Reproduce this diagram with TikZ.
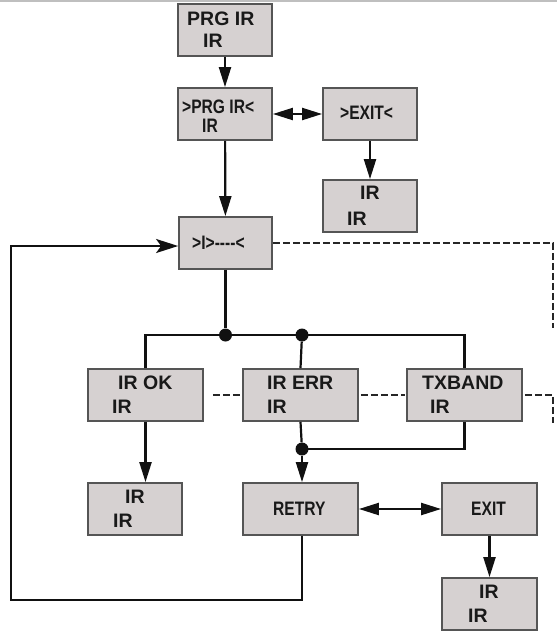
\documentclass[tikz,border=0pt]{standalone}
\usepackage{fontspec}
\usepackage{graphicx}
\setmainfont{Liberation Sans}
\usetikzlibrary{arrows.meta}

\definecolor{boxfill}{HTML}{D6D1D1}
\definecolor{boxline}{HTML}{555555}
\definecolor{wire}{HTML}{111111}
\definecolor{dashwire}{HTML}{262626}

\newcommand{\narrow}[1]{\scalebox{0.8}[1]{#1}}

\tikzset{
  panel/.style={draw=boxline, fill=boxfill, line width=1.8pt, inner sep=0pt,
                minimum height=52pt},
  wide/.style={panel, minimum width=115pt},
  slim/.style={panel, minimum width=94pt},
  lbl/.style={anchor=base west, inner sep=0pt, text=black!90,
              font=\fontsize{19.5}{19.5}\selectfont\bfseries},
  wireline/.style={draw=wire, line width=2.2pt},
  flow/.style={wireline, -{Triangle[length=20pt,width=12pt]}},
  both/.style={wireline, {Triangle[length=20pt,width=12pt]}-{Triangle[length=20pt,width=12pt]}},
  link/.style={draw=dashwire, line width=2.4pt, dash pattern=on 7pt off 3pt},
  junction/.style={circle, fill=wire, inner sep=0pt, minimum size=13pt}
}

\begin{document}
\begin{tikzpicture}[x=1pt, y=-1pt]
\useasboundingbox (0,0) rectangle (557,633);
\draw[black!25, line width=2pt] (0,1) -- (557,1);

% menu panels
\node[slim] (b1) at (225,30) {};
\node[slim] (b2) at (225,114) {};
\node[slim] (b3) at (370,114) {};
\node[slim] (b4) at (370,206) {};
\node[slim, minimum width=93pt] (b5) at (225.5,243) {};
\node[wide] (b6) at (145.5,395) {};
\node[wide] (b7) at (300.5,395) {};
\node[wide] (b8) at (464.5,395) {};
\node[slim] (b9) at (135,509) {};
\node[wide] (retry) at (300.5,509) {};
\node[slim, minimum width=95pt] (quit) at (489.5,509) {};
\node[slim, minimum width=95pt] (b10) at (489.5,604) {};

% panel texts
\node[lbl] (t1a) at (187,25) {PRG IR};
\node[lbl] (t1b) at (203,47) {IR};
\node[lbl] (t2a) at (182,113) {\narrow{>PRG IR<}};
\node[lbl] (t2b) at (202,132) {\narrow{IR}};
\node[lbl] (t3) at (340,119) {\narrow{>EXIT<}};
\node[lbl] (t4a) at (360,199) {IR};
\node[lbl] (t4b) at (347,225) {IR};
\node[lbl] (t5) at (192,249) {\narrow{>I>-{}-{}-{}-<}};
\node[lbl] (t6a) at (118,389) {IR OK};
\node[lbl] (t6b) at (112,413) {IR};
\node[lbl] (t7a) at (267,389) {IR ERR};
\node[lbl] (t7b) at (267,413) {IR};
\node[lbl] (t8a) at (422,389) {TXBAND};
\node[lbl] (t8b) at (430,413) {IR};
\node[lbl] (t9a) at (125,503) {IR};
\node[lbl] (t9b) at (113,527) {IR};
\node[lbl] (tr) at (273,515) {\narrow{RETRY}};
\node[lbl] (tq) at (471,515) {\narrow{EXIT}};
\node[lbl] (t10a) at (479,598) {IR};
\node[lbl] (t10b) at (468,622) {IR};

% junctions
\node[junction] (j1) at (225.5,335) {};
\node[junction] (j2) at (302,335) {};
\node[junction] (j3) at (302,449) {};

% loose ends of the dashed links and the return loop
\coordinate (dtop) at (553,328);
\coordinate (dlow) at (553,423);
\coordinate (loopa) at (11,600);
\coordinate (loopb) at (11,246);

% main flow
\draw[flow] (b1) -- (b2);
\draw[both] (b2) -- (b3);
\draw[flow] (b3) -- (b4);
\draw[flow] (b2) -- (b5);
\draw[wireline] (b5.south) -- (j1);
\draw[wireline] (b6.north) |- (j1.center) -- (j2.center) -| (b8.north);
\draw[wireline] (j2) -- (b7.north);
\draw[flow] (b6.south) -- (b6.south |- b9.north);
\draw[wireline] (b8.south) |- (j3.center);
\draw[wireline] (b7.south) -- (j3);
\draw[flow] (j3) -- (j3 |- retry.north);
\draw[both] (retry) -- (quit);
\draw[flow] (quit) -- (b10);
\draw[wireline, -{Stealth[length=22pt,width=14pt,inset=5pt]}]
  (retry.south -| j3) -- (j3 |- loopa) -- (loopa) -- (loopb) -- (b5.west |- loopb);

% dashed links
\draw[link] (b5.east) -- (dtop |- b5.east) -- (dtop);
\draw[link] ([xshift=9pt]b6.east) -- (b7.west);
\draw[link] ([xshift=2pt]b7.east) -- ([xshift=-1pt]b8.west);
\draw[link] ([xshift=2pt]b8.east) -- (dlow |- b8.east) -- (dlow);
\end{tikzpicture}
\end{document}
